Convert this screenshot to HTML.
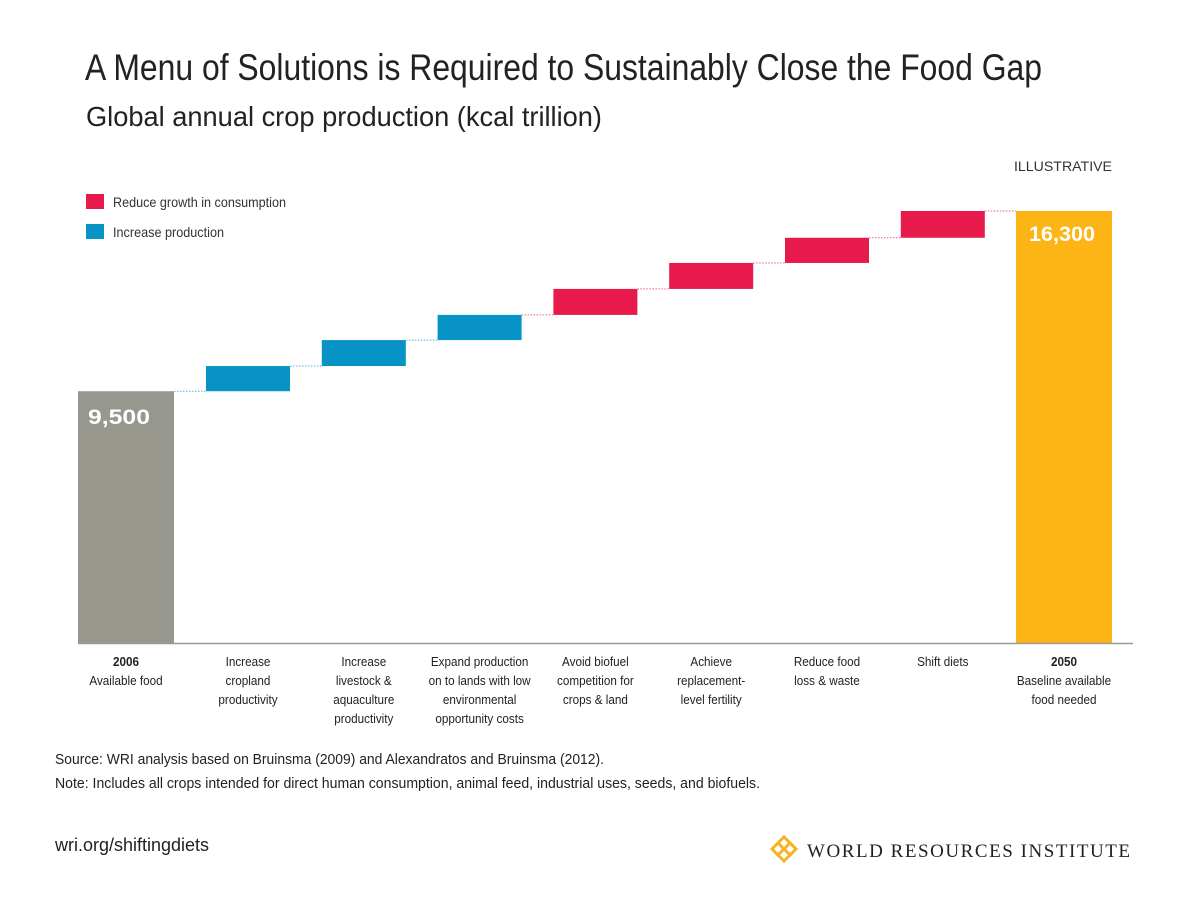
<!DOCTYPE html>
<html><head><meta charset="utf-8"><style>
body{margin:0;background:#fff;width:1200px;height:903px;overflow:hidden;font-family:"Liberation Sans",sans-serif}
svg{display:block}
</style></head><body>
<svg id="chart" width="1200" height="903" font-family="Liberation Sans, sans-serif">
<text x="85" y="80" font-size="37" fill="#222" textLength="957" lengthAdjust="spacingAndGlyphs">A Menu of Solutions is Required to Sustainably Close the Food Gap</text>
<text x="86" y="126" font-size="28" fill="#222" textLength="516" lengthAdjust="spacingAndGlyphs">Global annual crop production (kcal trillion)</text>
<text x="1112" y="171" font-size="14" fill="#333" text-anchor="end" textLength="98" lengthAdjust="spacingAndGlyphs">ILLUSTRATIVE</text>
<rect x="86" y="194" width="18" height="15" fill="#e8194b"/>
<text x="113" y="207" font-size="14" fill="#333" textLength="173" lengthAdjust="spacingAndGlyphs">Reduce growth in consumption</text>
<rect x="86" y="224" width="18" height="15" fill="#0893c7"/>
<text x="113" y="237" font-size="14" fill="#333" textLength="111" lengthAdjust="spacingAndGlyphs">Increase production</text>
<g id="marks"></g>
<line x1="78" y1="643.5" x2="1133" y2="643.5" stroke="#999" stroke-width="1.5"/>
<g id="labels" font-size="13" fill="#222" text-anchor="middle"></g>
<text x="55" y="764" font-size="14.5" fill="#222" textLength="549" lengthAdjust="spacingAndGlyphs">Source: WRI analysis based on Bruinsma (2009) and Alexandratos and Bruinsma (2012).</text>
<text x="55" y="788" font-size="14.5" fill="#222" textLength="705" lengthAdjust="spacingAndGlyphs">Note: Includes all crops intended for direct human consumption, animal feed, industrial uses, seeds, and biofuels.</text>
<text x="55" y="851" font-size="18" fill="#222" textLength="154" lengthAdjust="spacingAndGlyphs">wri.org/shiftingdiets</text>
<g transform="translate(784,849)" fill="none" stroke="#f5b221" stroke-width="3">
<path d="M-12 0 L0 -12 L12 0 L0 12 Z"/><path d="M-6 -6 L6 6 M6 -6 L-6 6"/>
</g>
<text x="807" y="857" font-family="Liberation Serif, serif" font-size="19" fill="#222" textLength="323" lengthAdjust="spacing">WORLD RESOURCES INSTITUTE</text>
</svg>
<script>
const startValue = 9500;
const endValue = 16300;
const stepValues = [950, 980, 950, 980, 980, 950, 1010];
const stepTypes = ["prod","prod","prod","cons","cons","cons","cons"];
const startLabel = "9,500";
const endLabel = "16,300";
const categoryLabels = [
 ["2006","Available food"],
 ["Increase","cropland","productivity"],
 ["Increase","livestock &","aquaculture","productivity"],
 ["Expand production","on to lands with low","environmental","opportunity costs"],
 ["Avoid biofuel","competition for","crops & land"],
 ["Achieve","replacement-","level fertility"],
 ["Reduce food","loss & waste"],
 ["Shift diets"],
 ["2050","Baseline available","food needed"]
];
const NS="http://www.w3.org/2000/svg";
const base=643, scale=(643-211)/16300;
const y=v=>base-v*scale;
const cx=i=> i===0 ? 126 : (i===8 ? 1064 : 248+(i-1)*115.8);
const colors={prod:"#0893c7",cons:"#e8194b"};
const marks=document.getElementById('marks');
function mk(tag,attrs,parent){const e=document.createElementNS(NS,tag);for(const k in attrs)e.setAttribute(k,attrs[k]);parent.appendChild(e);return e;}
let r=mk('rect',{x:cx(0)-48,y:y(startValue),width:96,height:base-y(startValue),fill:"#97978d"},marks);


let t=mk('text',{x:cx(0)-38,y:y(startValue)+33,"font-size":21,"font-weight":"bold",fill:"#fff",textLength:"62",lengthAdjust:"spacingAndGlyphs"},marks);t.textContent=startLabel;


let cum=startValue, prevRight=cx(0)+48;
stepValues.forEach((v,i)=>{
 const c=cx(i+1), col=colors[stepTypes[i]];
 const l=mk('line',{x1:prevRight,x2:c-42,y1:y(cum),y2:y(cum),stroke:col,"stroke-width":1,"stroke-dasharray":"1.5,1.5",opacity:0.7},marks);
 
 
 const b=mk('rect',{x:c-42,y:y(cum+v),width:84,height:y(cum)-y(cum+v),fill:col},marks);
 
 
 cum+=v; prevRight=c+42;
});
const ce=cx(8);
let l2=mk('line',{x1:prevRight,x2:ce-48,y1:y(cum),y2:y(cum),stroke:"#e8194b","stroke-width":1,"stroke-dasharray":"1.5,1.5",opacity:0.7},marks);


r=mk('rect',{x:ce-48,y:y(endValue),width:96,height:base-y(endValue),fill:"#fdb515"},marks);


t=mk('text',{x:ce-2,y:y(endValue)+30,"font-size":21,"font-weight":"bold",fill:"#fff","text-anchor":"middle",textLength:"66",lengthAdjust:"spacingAndGlyphs"},marks);t.textContent=endLabel;


const lab=document.getElementById('labels');
categoryLabels.forEach((lines,i)=>{
 lines.forEach((s,j)=>{
  const e=mk('text',{x:cx(i),y:666+j*19},lab);
  if(j===0&&(i===0||i===8))e.setAttribute('font-weight','bold');
  e.setAttribute('transform','translate('+cx(i)+',0) scale(0.9,1) translate('+(-cx(i))+',0)');
  e.textContent=s;
  
  
 });
});
</script>
</body></html>
